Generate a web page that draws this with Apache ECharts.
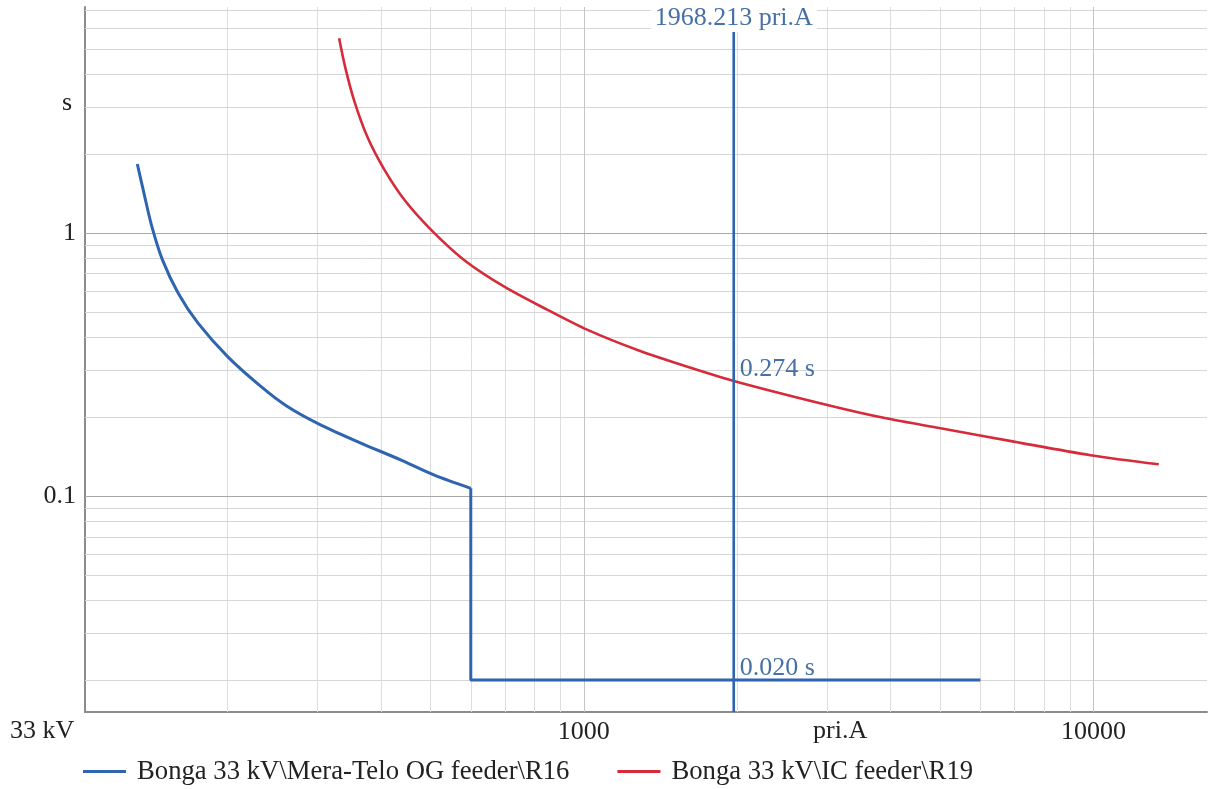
<!DOCTYPE html>
<html><head><meta charset="utf-8">
<script src="https://cdn.jsdelivr.net/npm/echarts@6/dist/echarts.min.js"></script>
<style>html,body{margin:0;padding:0;background:#fff}#c{width:1209px;height:789px}</style>
</head><body><div id="c"></div>
<script>
// ---- data ----
const seriesNames = ['Bonga 33 kV\\Mera-Telo OG feeder\\R16', 'Bonga 33 kV\\IC feeder\\R19'];
const r16Curve = [[133,1.83],[137,1.42],[142,1.06],[149,0.79],[160,0.59],[175,0.454],[200,0.339],[233,0.26],[262,0.219],[305,0.186],[365,0.159],[438,0.137],[509,0.12],[600,0.107]];
const r16Step = [[600,0.107],[600,0.02],[6000,0.02]];
const r19Curve = [[331,5.5],[340,4.29],[354,3.2],[376,2.32],[406,1.74],[444,1.34],[501,1.03],[582,0.79],[698,0.625],[849,0.51],[1017,0.428],[1274,0.359],[1597,0.31],[1968.213,0.274],[3004,0.222],[3940,0.197],[5012,0.181],[6979,0.161],[9865,0.143],[13430,0.132]];
const cursorCurrent = 1968.213;
const cursorTimes = [0.274, 0.020];
const xRange = [105, 16700];
const yRange = [0.0151, 7.23];
const xMajorGrid = [1000, 10000];
const xMinorGrid = [200,300,400,500,600,700,800,900,2000,3000,4000,5000,6000,7000,8000,9000];
const yMajorGrid = [0.1, 1];
const yMinorGrid = [0.02,0.03,0.04,0.05,0.06,0.07,0.08,0.09,0.2,0.3,0.4,0.5,0.6,0.7,0.8,0.9,2,3,4,5,6,7];
const xTickLabels = [1000, 10000];
const yTickLabels = [0.1, 1];
const xAxisTitle = 'pri.A';
const yAxisTitle = 's';
const voltageTitle = '33 kV';

// ---- styles ----
const FONT = "'Liberation Serif','Times New Roman',serif";
const BLUE = '#2e64b0';
const RED = '#d62b3a';
const NOTE = '#4670a6';
const FS = 26;

const gridLines = [].concat(
  xMinorGrid.map(v => ({xAxis: v, lineStyle: {color: '#dedede', width: 1, type: 'solid'}})),
  yMinorGrid.map(v => ({yAxis: v, lineStyle: {color: '#d6d6d6', width: 1, type: 'solid'}})),
  xMajorGrid.map(v => ({xAxis: v, lineStyle: {color: '#c4c4c4', width: 1, type: 'solid'}})),
  yMajorGrid.map(v => ({yAxis: v, lineStyle: {color: '#a8a8a8', width: 1.2, type: 'solid'}}))
);

function pick(list) {
  return function (v) {
    const r = Number(Number(v).toPrecision(6));
    return list.indexOf(r) >= 0 ? String(r) : '';
  };
}

const chart = echarts.init(document.getElementById('c'), null, {renderer: 'canvas'});
chart.setOption({
  animation: false,
  backgroundColor: '#fff',
  textStyle: {fontFamily: FONT},
  grid: {left: 85, right: 2, top: 7, bottom: 77, containLabel: false, outerBoundsMode: 'none'},
  legend: {
    data: seriesNames,
    left: 83, top: 758, padding: 0,
    icon: 'rect',
    itemWidth: 43, itemHeight: 3, itemGap: 48,
    textStyle: {fontFamily: FONT, fontSize: 26.7, color: '#222', padding: [0, 0, 0, 6]}
  },
  xAxis: {
    type: 'log', logBase: 10, min: xRange[0], max: xRange[1],
    axisLine: {show: true, lineStyle: {color: '#8c8c8c', width: 2}},
    axisTick: {show: false},
    splitLine: {show: false},
    minorTick: {show: false}, minorSplitLine: {show: false},
    axisLabel: {formatter: pick(xTickLabels), fontFamily: FONT, fontSize: FS, color: '#222', margin: 7, showMinLabel: true, showMaxLabel: true}
  },
  yAxis: {
    type: 'log', logBase: 10, min: yRange[0], max: yRange[1],
    axisLine: {show: true, lineStyle: {color: '#8c8c8c', width: 2}},
    axisTick: {show: false},
    splitLine: {show: false},
    minorTick: {show: false}, minorSplitLine: {show: false},
    axisLabel: {formatter: pick(yTickLabels), fontFamily: FONT, fontSize: FS, color: '#222', margin: 9}
  },
  graphic: [
    {type: 'text', left: 62, top: 90, style: {text: yAxisTitle, font: FS + 'px ' + FONT, fill: '#222'}},
    {type: 'text', left: 813, top: 718, style: {text: xAxisTitle, font: FS + 'px ' + FONT, fill: '#222'}},
    {type: 'text', left: 10, top: 718, style: {text: voltageTitle, font: FS + 'px ' + FONT, fill: '#222'}}
  ],
  series: [
    {
      name: 'grid', type: 'line', data: [], silent: true,
      markLine: {silent: true, symbol: ['none', 'none'], z: 1, label: {show: false}, animation: false,
                 lineStyle: {type: 'solid'}, data: gridLines}
    },
    {
      name: seriesNames[0], type: 'line', data: r16Curve, smooth: 0.3, showSymbol: false, symbol: 'none',
      lineStyle: {color: BLUE, width: 3}, itemStyle: {color: BLUE}, z: 3
    },
    {
      name: seriesNames[0], type: 'line', data: r16Step, showSymbol: false, symbol: 'none',
      lineStyle: {color: BLUE, width: 3}, itemStyle: {color: BLUE}, z: 3
    },
    {
      name: seriesNames[1], type: 'line', data: r19Curve, smooth: 0.3, showSymbol: false, symbol: 'none',
      lineStyle: {color: RED, width: 2.6}, itemStyle: {color: RED}, z: 3
    },
    {
      name: 'cursor', type: 'line', data: [[cursorCurrent, yRange[0]], [cursorCurrent, yRange[1]]],
      showSymbol: false, symbol: 'none', lineStyle: {color: BLUE, width: 2.6}, z: 4,
      markPoint: {
        symbol: 'circle', symbolSize: 0, z: 10, silent: true,
        data: [
          {coord: [cursorCurrent, yRange[1]], value: cursorCurrent,
           label: {show: true, position: 'bottom', distance: -3, formatter: cursorCurrent.toFixed(3) + ' ' + xAxisTitle,
                   fontFamily: FONT, fontSize: FS, lineHeight: 26, color: NOTE, backgroundColor: '#fff', padding: [1, 4]}},
          ...cursorTimes.map(t => ({coord: [cursorCurrent, t], value: t,
           label: {show: true, position: [6, -25], formatter: t.toFixed(3) + ' s',
                   fontFamily: FONT, fontSize: FS, lineHeight: 26, color: NOTE}}))
        ]
      }
    }
  ]
});
</script></body></html>
